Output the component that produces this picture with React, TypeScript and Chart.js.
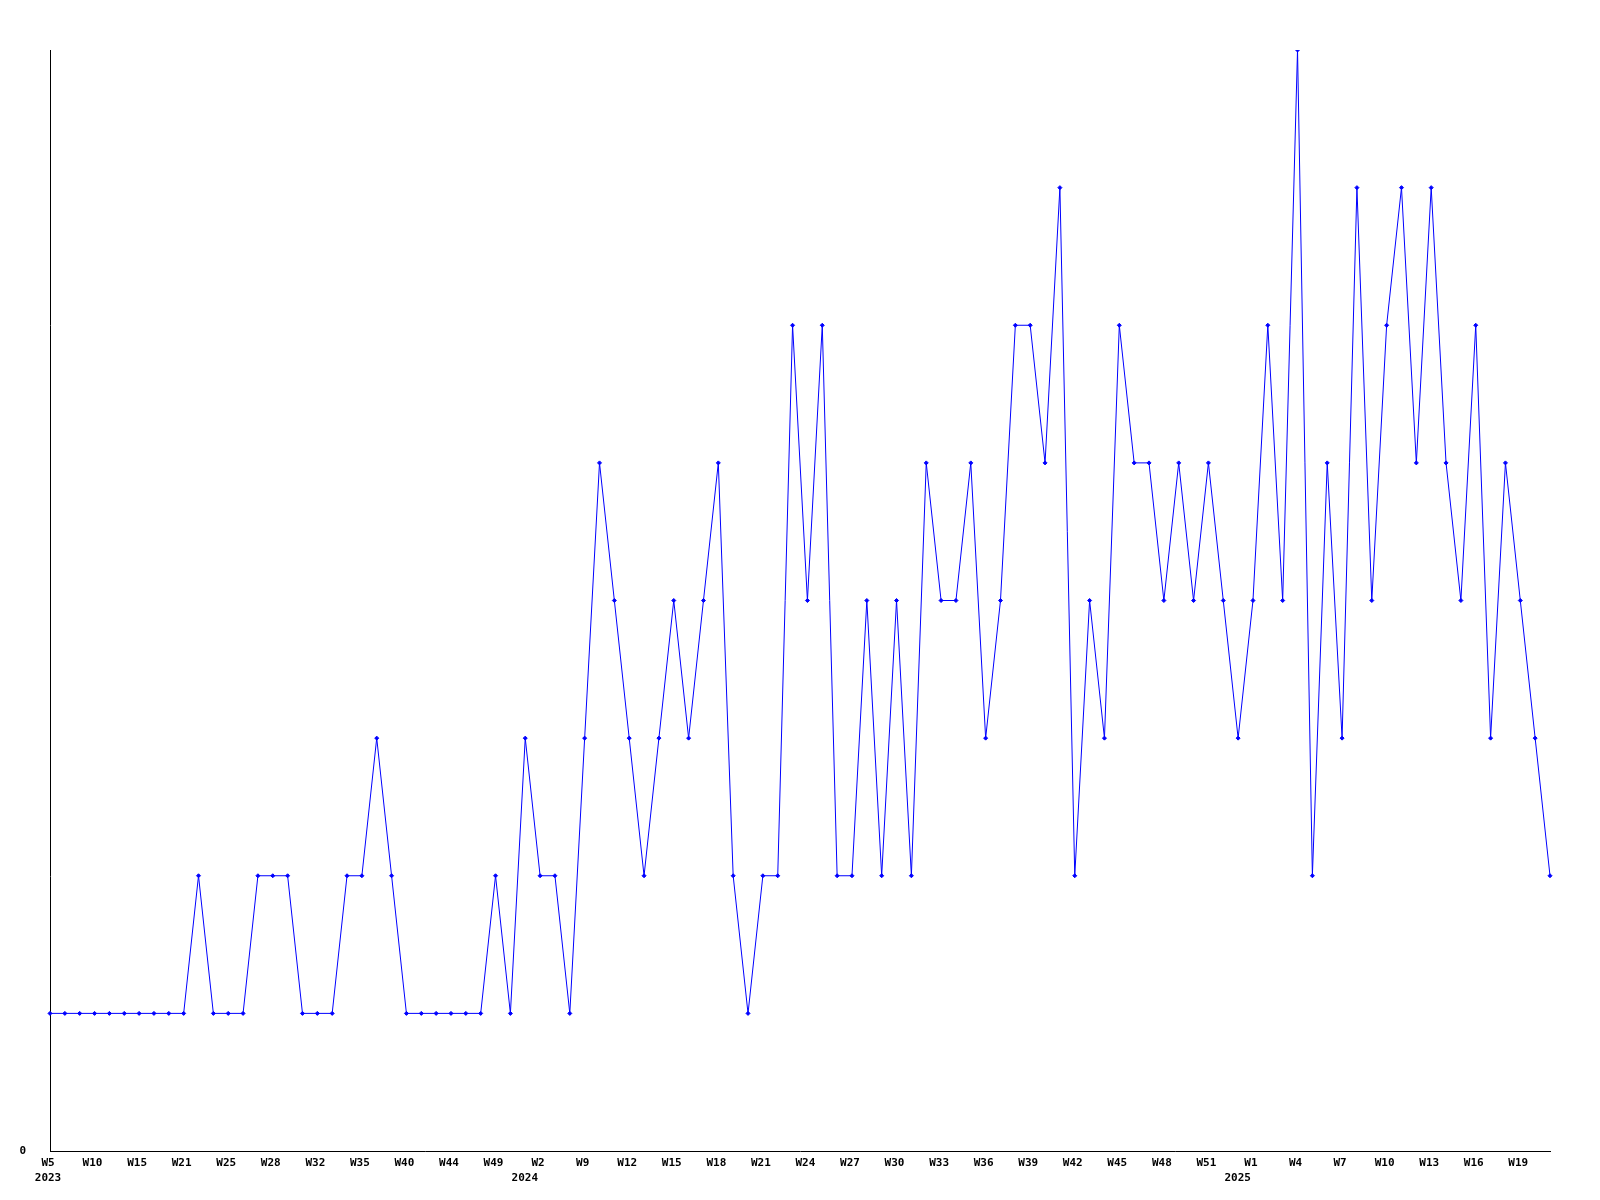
import React, { useEffect, useRef } from "react";
import { Chart, registerables } from "chart.js";

Chart.register(...registerables);

const weeks2023 = ["W5","W6","W8","W10","W11","W13","W15","W17","W19","W21","W22","W24","W25","W26","W27","W28","W29","W31","W32","W33","W34","W35","W36","W38","W40","W41","W43","W44","W46","W48","W49","W50","W52"];
const weeks2024 = ["W2","W4","W6","W9","W10","W11","W12","W13","W14","W15","W16","W17","W18","W19","W20","W21","W22","W23","W24","W25","W26","W27","W28","W29","W30","W31","W32","W33","W34","W35","W36","W37","W38","W39","W40","W41","W42","W43","W44","W45","W46","W47","W48","W49","W50","W51","W52","W53"];
const weeks2025 = ["W1","W2","W3","W4","W5","W6","W7","W8","W9","W10","W11","W12","W13","W14","W15","W16","W17","W18","W19","W20","W21"];
const years = ["2023", "2024", "2025"];

const values = [
  1,1,1,1,1,1,1,1,1,1,
  2,1,1,1,2,2,2,1,1,1,
  2,2,3,2,1,1,1,1,1,1,
  2,1,3,2,2,1,3,5,4,3,
  2,3,4,3,4,5,2,1,2,2,
  6,4,6,2,2,4,2,4,2,5,
  4,4,5,3,4,6,6,5,7,2,
  4,3,6,5,5,4,5,4,5,4,
  3,4,6,4,8,2,5,3,7,4,
  6,7,5,7,5,4,6,3,5,4,
  3,2,
];

const labels = [...weeks2023, ...weeks2024, ...weeks2025];
const yearStarts: Record<number, string> = {
  0: years[0],
  [weeks2023.length]: years[1],
  [weeks2023.length + weeks2024.length]: years[2],
};

export default function App() {
  const ref = useRef<HTMLCanvasElement | null>(null);
  useEffect(() => {
    if (!ref.current) return;
    const font = { family: "'DejaVu Sans Mono', monospace", size: 11, weight: "bold" as const, lineHeight: 1.4 };
    const chart = new Chart(ref.current, {
      type: "line",
      data: {
        labels,
        datasets: [
          {
            data: values,
            borderColor: "#0000ff",
            backgroundColor: "#0000ff",
            borderWidth: 1,
            pointStyle: "rectRot",
            pointRadius: 2,
            pointBorderWidth: 1,
            tension: 0,
            fill: false,
          },
        ],
      },
      options: {
        animation: false,
        responsive: true,
        maintainAspectRatio: false,
        layout: { padding: { top: 50, right: 50, left: 0, bottom: 0 } },
        plugins: { legend: { display: false }, tooltip: { enabled: false } },
        scales: {
          x: {
            type: "category",
            offset: false,
            grid: { display: false, drawTicks: false },
            border: { display: true, color: "#000000", width: 1 },
            afterFit: (s: any) => { s.height = 49; },
            ticks: {
              autoSkip: false,
              maxRotation: 0,
              minRotation: 0,
              padding: 4,
              labelOffset: -2,
              color: "#000000",
              font,
              callback: (_v: any, i: number) => {
                if (i % 3 !== 0) return "";
                const y = yearStarts[i];
                if (y) return i === 0 ? [labels[i], y] : [labels[i], y + "    "];
                return labels[i];
              },
            },
          },
          y: {
            min: 0,
            max: 8,
            grid: { display: false, drawTicks: false },
            border: { display: true, color: "#000000", width: 1 },
            afterFit: (s: any) => { s.width = 50; },
            ticks: {
              stepSize: 1,
              padding: 24,
              color: "#000000",
              font,
              callback: (v: any) => (v === 0 ? "0" : ""),
            },
          },
        },
      },
    });
    return () => chart.destroy();
  }, []);
  return (
    <div style={{ position: "absolute", left: 0, top: 0, width: 1600, height: 1200, background: "#fff" }}>
      <canvas ref={ref} />
    </div>
  );
}
